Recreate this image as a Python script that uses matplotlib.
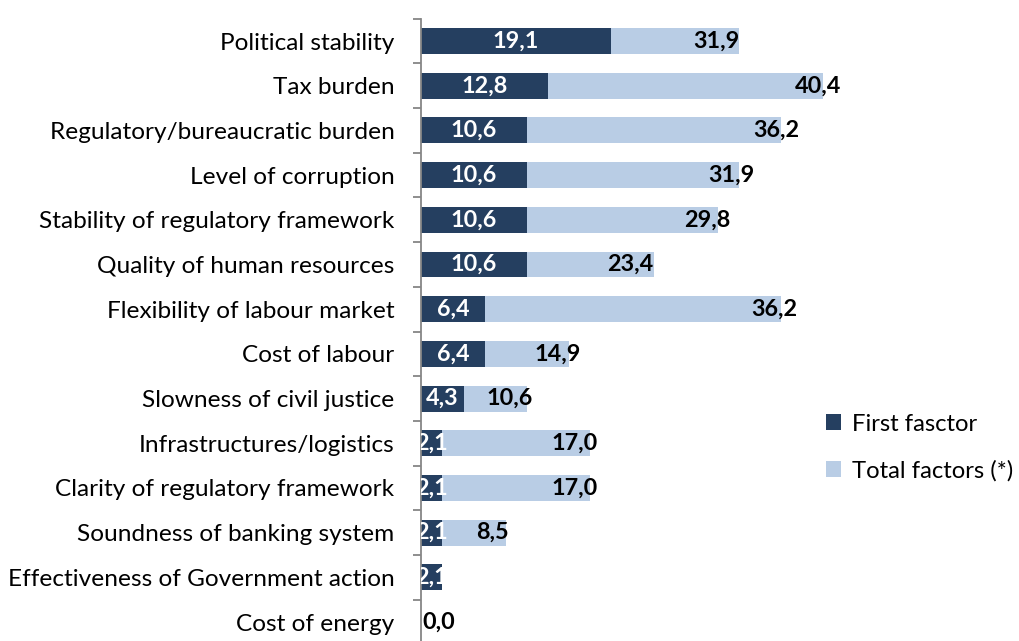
import matplotlib.pyplot as plt
import numpy as np

plt.rcParams['font.family'] = ['Lato', 'DejaVu Sans']

categories = ["Political stability", "Tax burden", "Regulatory/bureaucratic burden",
              "Level of corruption", "Stability of regulatory framework",
              "Quality of human resources", "Flexibility of labour market",
              "Cost of labour", "Slowness of civil justice", "Infrastructures/logistics",
              "Clarity of regulatory framework", "Soundness of banking system",
              "Effectiveness of Government action", "Cost of energy"]
first_factor = [19.1, 12.8, 10.6, 10.6, 10.6, 10.6, 6.4, 6.4, 4.3, 2.1, 2.1, 2.1, 2.1, 0.0]
total_factors = [31.9, 40.4, 36.2, 31.9, 29.8, 23.4, 36.2, 14.9, 10.6, 17.0, 17.0, 8.5, 2.1, 0.0]
show_total = [True] * 12 + [False, True]

# where each total label sits, back from the bar end
total_label_shift = [2.2, 0.5, 0.5, 0.7, 1.0, 2.4, 0.7, 1.2, 1.7, 1.6, 1.6, 1.3, 0.0, -1.8]

dark = "#253F60"
light = "#B9CDE5"

fig = plt.figure(figsize=(10.19, 6.41), dpi=100)
ax = fig.add_axes([421 / 1019, -3.4 / 641, 448 / 1019, 625.7 / 641])

y = np.arange(len(categories))
ax.barh(y, total_factors, height=0.58, color=light, label="Total factors (*)")
ax.barh(y, first_factor, height=0.58, color=dark, label="First fasctor")

for i in range(len(categories)):
    if first_factor[i] > 0:
        ax.text(first_factor[i] / 2, y[i], f"{first_factor[i]:.1f}".replace(".", ","),
                ha="center", va="center", color="white", fontsize=16.8,
                fontweight="bold", clip_on=True)
    if show_total[i]:
        ax.text(total_factors[i] - total_label_shift[i], y[i],
                f"{total_factors[i]:.1f}".replace(".", ","),
                ha="center", va="center", color="black", fontsize=16.8,
                fontweight="bold", clip_on=False)

ax.set_xlim(0, 45)
ax.set_ylim(len(categories) - 0.5, -0.5)
ax.set_yticks(y)
ax.set_yticklabels(categories, fontsize=17.6)
ax.set_yticks(np.arange(len(categories) + 1) - 0.5, minor=True)
ax.tick_params(axis="y", which="major", length=0, pad=19)
ax.tick_params(axis="y", which="minor", length=5.5, width=1.3, color="#868686")
ax.set_xticks([])

for side in ["top", "right", "bottom"]:
    ax.spines[side].set_visible(False)
ax.spines["left"].set_color("#868686")
ax.spines["left"].set_linewidth(1.3)

handles, labels = ax.get_legend_handles_labels()
fig.legend(handles[::-1], labels[::-1], loc="upper left", bbox_to_anchor=(816 / 1019, 1 - 404 / 641),
           frameon=False, fontsize=17.2, handlelength=0.65, handleheight=0.65,
           handletextpad=0.45, labelspacing=1.05, borderaxespad=0)

fig.savefig("out.png", dpi=100)
